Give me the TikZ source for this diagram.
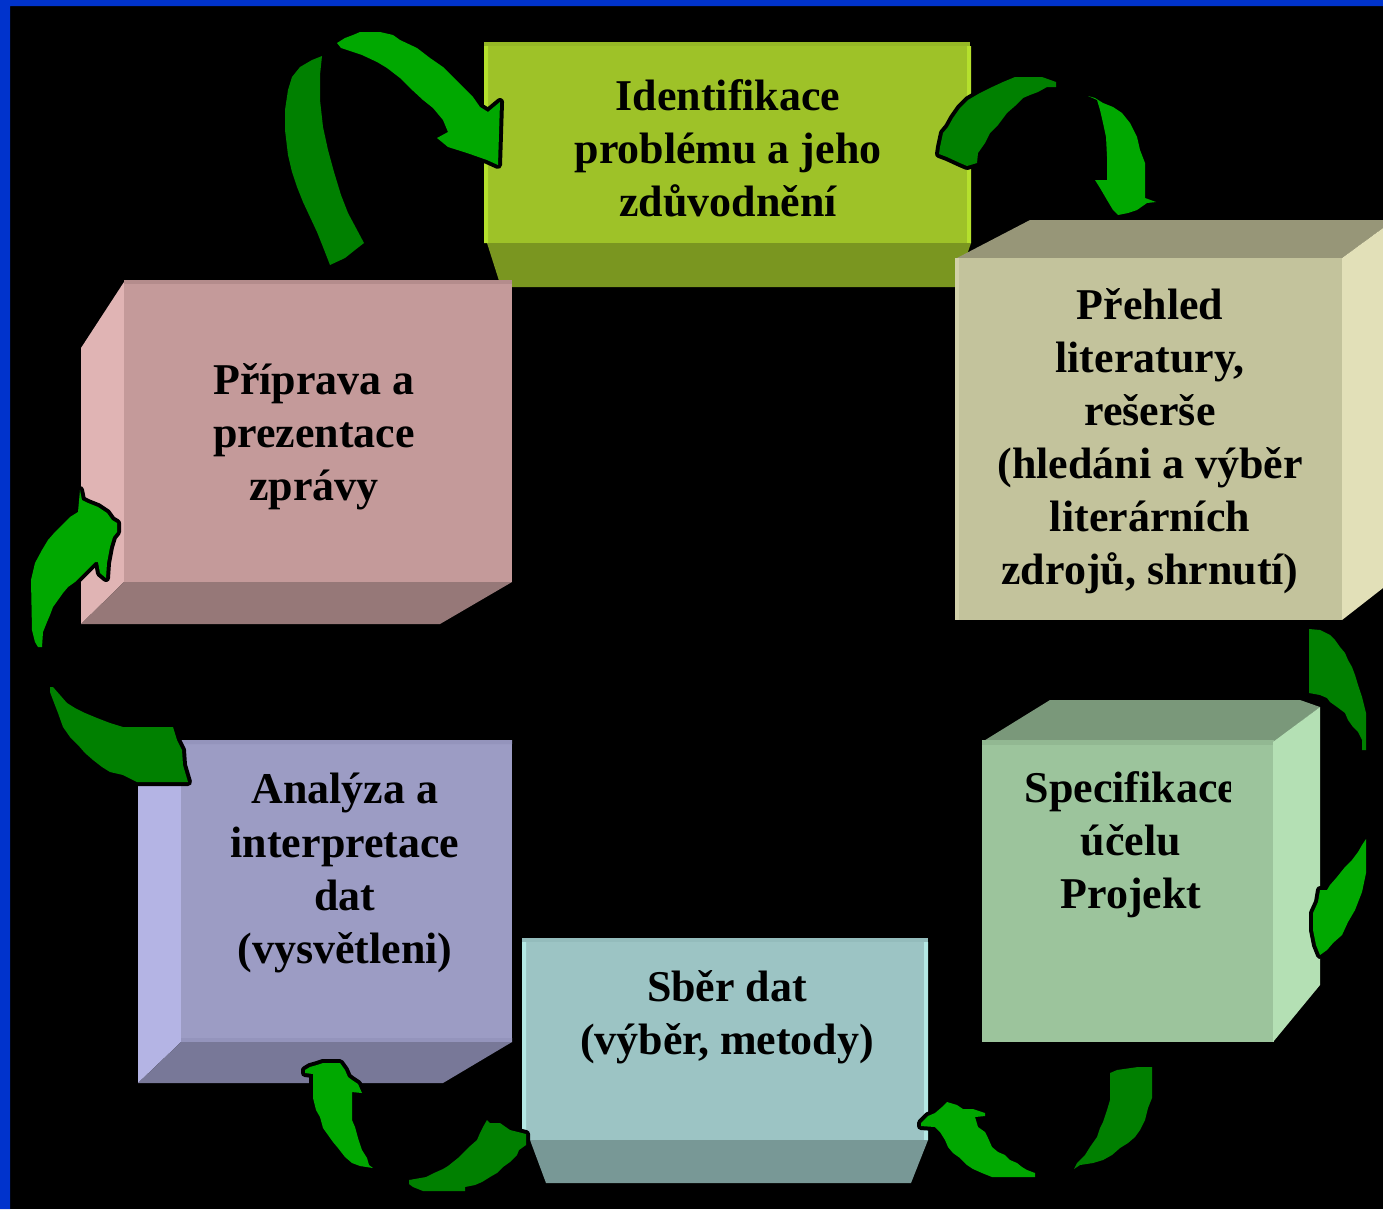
\documentclass[tikz,border=0pt]{standalone}
\usepackage{fontspec}
\setmainfont{Liberation Serif}

\definecolor{frameblue}{HTML}{0033CC}
\definecolor{arrowdark}{HTML}{008000}
\definecolor{arrowlight}{HTML}{00A800}
% faces of the six boxes
\definecolor{identfront}{HTML}{9EC228}
\definecolor{identlight}{HTML}{B5E02D}
\definecolor{identedge}{HTML}{96B826}
\definecolor{identdark}{HTML}{7A9620}
\definecolor{prehledfront}{HTML}{C3C39C}
\definecolor{prehledlight}{HTML}{D2D1AA}
\definecolor{prehledside}{HTML}{E2E0B8}
\definecolor{prehledtop}{HTML}{979678}
\definecolor{specfront}{HTML}{9CC49C}
\definecolor{specedge}{HTML}{92B892}
\definecolor{specside}{HTML}{B4E0B4}
\definecolor{spectop}{HTML}{7A987A}
\definecolor{sberfront}{HTML}{9CC4C4}
\definecolor{sberedge}{HTML}{94BCBC}
\definecolor{sberlight}{HTML}{B4E8E4}
\definecolor{sberdark}{HTML}{789896}
\definecolor{analfront}{HTML}{9C9CC4}
\definecolor{analedge}{HTML}{9494BC}
\definecolor{anallight}{HTML}{B4B4E4}
\definecolor{analdark}{HTML}{787898}
\definecolor{pripfront}{HTML}{C49A9A}
\definecolor{pripedge}{HTML}{B48C8C}
\definecolor{priplight}{HTML}{E0B4B4}
\definecolor{pripdark}{HTML}{967878}

\tikzset{
    boxtext/.style={font=\fontsize{12.5}{15.1}\selectfont\bfseries, align=center, inner sep=0pt},
    arrowback/.style={fill=arrowdark, preaction={draw=black, line width=0.08cm, line join=round}},
    arrowfront/.style={fill=arrowlight, preaction={draw=black, line width=0.08cm, line join=round}}
    % one unit = one pixel of the slide
}
\def\pix{0.01cm}

\begin{document}
\begin{tikzpicture}[x=\pix, y=-\pix]
    \useasboundingbox (0,0) rectangle (1383,1209);
    \fill[black] (0,0) rectangle (1383,1209);
    \fill[frameblue] (0,0) rectangle (10,1209) (0,0) rectangle (1383,6);

    % Identifikace
    \fill[identfront] (484,42) rectangle (970,243);
    \fill[identedge] (484,42) rectangle (970,46);
    \fill[identlight] (484,46) rectangle (488,243) (967,46) rectangle (971,243);
    \fill[identdark] (487,243) -- (971,243) -- (956,287) -- (501,287) -- cycle;

    % Prehled
    \fill[prehledtop] (957,258) -- (1030,220) -- (1383,220) -- (1383,228) -- (1342,258) -- cycle;
    \fill[prehledfront] (955,258) rectangle (1342,620);
    \fill[prehledlight] (955,258) rectangle (959,620);
    \fill[prehledside] (1342,258) -- (1383,228) -- (1383,588) -- (1342,620) -- cycle;

    % Specifikace
    \fill[spectop] (982,742) -- (1050,700) -- (1300,700) -- (1320,707) -- (1274,742) -- cycle;
    \fill[specfront] (982,742) rectangle (1274,1042);
    \fill[specedge] (982,740) rectangle (1274,745);
    \fill[specside] (1273,742) -- (1320,707) -- (1320,985) -- (1273,1042) -- cycle;

    % Sber dat
    \fill[sberfront] (522,938) rectangle (928,1140);
    \fill[sberedge] (522,938) rectangle (928,942);
    \fill[sberlight] (522,942) rectangle (526,1140) (924,942) rectangle (928,1140);
    \fill[sberdark] (530,1140) -- (928,1140) -- (911,1183) -- (546,1183) -- cycle;

    % Analyza
    \fill[anallight] (138,782) -- (181,740) -- (181,1042) -- (138,1083) -- cycle;
    \fill[analfront] (181,740) rectangle (512,1042);
    \fill[analedge] (181,740) rectangle (512,744) (181,1038) rectangle (512,1042);
    \fill[analdark] (181,1042) -- (512,1042) -- (443,1083) -- (138,1083) -- cycle;

    % Priprava
    \fill[priplight] (81,348) -- (124,282) -- (124,582) -- (81,624) -- cycle;
    \fill[pripfront] (124,280) rectangle (512,582);
    \fill[pripedge] (124,280) rectangle (512,284);
    \fill[pripdark] (124,582) -- (512,582) -- (440,624) -- (81,624) -- cycle;

    % texts
    \draw
        node [boxtext] (ident) at (728,148) {Identifikace\\problému a jeho\\zdůvodnění}
        node [boxtext] (prehled) at (1150,441) {Přehled\\literatury,\\rešerše\\(hledáni a výběr\\literárních\\zdrojů, shrnutí)}
        node [boxtext] (sber) at (727,1017) {Sběr dat\\(výběr, metody)}
        node [boxtext] (analyza) at (345,873) {Analýza a\\interpretace\\dat\\(vysvětleni)}
        node [boxtext] (priprava) at (314,437) {Příprava a\\prezentace\\zprávy}
    ;
    \begin{scope}
        \clip (982,742) rectangle (1230,1042);
        \node [boxtext] (spec) at (1131,845) {Specifikace\\účelu\\Projekt};
    \end{scope}

    % arrows, back part dark and front part light
    \path
        [arrowback]
        (322,56) -- (312,60) -- (300,67) -- (292,77) -- (288,90) -- (285,110) -- (285,130)
        -- (288,155) -- (292,172) -- (297,187) -- (303,202) -- (310,217) -- (317,232)
        -- (323,247) -- (330,265) -- (345,258) -- (355,250) -- (364,243) -- (356,228)
        -- (348,213) -- (341,195) -- (334,172) -- (328,150) -- (323,127) -- (320,100)
        -- (320,75) -- cycle
    ;
    \path
        [arrowfront]
        (337,43) -- (345,38) -- (353,35) -- (360,32) -- (380,32) -- (393,35) -- (400,40)
        -- (417,48) -- (430,58) -- (443,67) -- (453,77) -- (463,87) -- (473,97)
        -- (480,107) -- (488,112) -- (500,102) -- (498,165) -- (487,160) -- (467,153)
        -- (448,147) -- (437,138) -- (448,132) -- (443,120) -- (433,108) -- (423,100)
        -- (410,88) -- (400,78) -- (387,68) -- (377,62) -- (362,55) -- (341,48) -- cycle
    ;

    \path
        [arrowback]
        (940,147) -- (943,133) -- (948,127) -- (953,118) -- (960,108) -- (968,100)
        -- (980,93) -- (990,88) -- (1003,82) -- (1015,77) -- (1042,77) -- (1056,82)
        -- (1056,87) -- (1047,87) -- (1038,92) -- (1030,95) -- (1023,98) -- (1015,106)
        -- (1007,113) -- (998,125) -- (990,133) -- (985,143) -- (978,153) -- (977,163)
        -- (967,166) -- (960,163) -- (947,157) -- (939,154) -- cycle
    ;
    \path
        [arrowfront]
        (1088,96) -- (1097,100) -- (1100,110) -- (1103,123) -- (1106,137) -- (1107,157)
        -- (1107,180) -- (1095,180) -- (1100,188) -- (1107,200) -- (1113,210) -- (1118,215)
        -- (1128,213) -- (1137,210) -- (1147,203) -- (1156,202) -- (1145,198) -- (1145,163)
        -- (1140,150) -- (1137,137) -- (1130,123) -- (1122,113) -- (1113,107) -- (1103,103)
        -- (1095,98) -- cycle
    ;

    \path
        [arrowback]
        (1309,629) -- (1309,693) -- (1320,695) -- (1327,698) -- (1330,702) -- (1337,707)
        -- (1345,713) -- (1348,720) -- (1353,727) -- (1358,732) -- (1362,740) -- (1362,750)
        -- (1366,750) -- (1366,713) -- (1362,697) -- (1358,685) -- (1355,675) -- (1352,667)
        -- (1348,660) -- (1345,653) -- (1340,647) -- (1335,640) -- (1330,635) -- (1320,630)
        -- cycle
    ;
    \path
        [arrowfront]
        (1366,839) -- (1366,873) -- (1362,892) -- (1355,910) -- (1348,922) -- (1342,935)
        -- (1333,943) -- (1327,950) -- (1320,955) -- (1316,945) -- (1313,930) -- (1313,913)
        -- (1318,902) -- (1320,890) -- (1327,890) -- (1330,885) -- (1337,877) -- (1345,867)
        -- (1352,860) -- (1358,852) -- (1362,845) -- cycle
    ;

    \path
        [arrowback]
        (1138,1067) -- (1152,1067) -- (1152,1098) -- (1148,1108) -- (1145,1120) -- (1140,1130)
        -- (1135,1137) -- (1128,1143) -- (1120,1148) -- (1112,1155) -- (1103,1160)
        -- (1093,1163) -- (1080,1165) -- (1074,1169) -- (1077,1163) -- (1085,1155)
        -- (1090,1147) -- (1097,1137) -- (1100,1128) -- (1103,1122) -- (1107,1110)
        -- (1110,1100) -- (1110,1073) -- (1117,1070) -- cycle
    ;
    \path
        [arrowfront]
        (947,1102) -- (957,1105) -- (963,1109) -- (973,1109) -- (985,1113) -- (985,1116)
        -- (975,1117) -- (978,1127) -- (985,1132) -- (988,1138) -- (992,1147) -- (998,1152)
        -- (1005,1155) -- (1010,1160) -- (1017,1163) -- (1022,1167) -- (1027,1170)
        -- (1035,1173) -- (1035,1177) -- (992,1177) -- (982,1173) -- (973,1169) -- (967,1165)
        -- (960,1158) -- (953,1153) -- (948,1147) -- (945,1140) -- (940,1132) -- (935,1127)
        -- (921,1126) -- (921,1123) -- (928,1116) -- (935,1113) -- (942,1107) -- cycle
    ;

    \path
        [arrowback]
        (409,1180) -- (426,1177) -- (434,1173) -- (443,1169) -- (448,1166) -- (453,1162)
        -- (458,1158) -- (463,1153) -- (469,1147) -- (477,1140) -- (480,1133) -- (483,1127)
        -- (487,1120) -- (490,1123) -- (500,1123) -- (510,1130) -- (526,1134) -- (526,1145)
        -- (519,1150) -- (517,1155) -- (510,1162) -- (503,1167) -- (497,1173) -- (490,1177)
        -- (482,1182) -- (475,1185) -- (465,1187) -- (465,1191) -- (423,1191) -- (413,1187)
        -- (409,1184) -- cycle
    ;
    \path
        [arrowfront]
        (323,1063) -- (340,1063) -- (345,1070) -- (348,1077) -- (352,1080) -- (358,1084)
        -- (362,1093) -- (352,1092) -- (352,1120) -- (355,1127) -- (358,1138) -- (362,1150)
        -- (367,1158) -- (369,1165) -- (373,1168) -- (360,1166) -- (352,1163) -- (345,1157)
        -- (338,1148) -- (333,1142) -- (328,1135) -- (323,1128) -- (320,1117) -- (316,1110)
        -- (313,1098) -- (313,1074) -- (305,1073) -- (305,1070) -- (310,1067) -- (317,1065)
        -- cycle
    ;

    \path
        [arrowback]
        (50,687) -- (53,687) -- (60,695) -- (67,703) -- (75,708) -- (85,713) -- (97,718)
        -- (110,723) -- (123,727) -- (173,727) -- (177,740) -- (182,750) -- (183,765)
        -- (188,782) -- (137,782) -- (123,775) -- (110,772) -- (102,767) -- (93,760)
        -- (85,753) -- (78,745) -- (70,737) -- (63,727) -- (58,713) -- (53,700) -- (50,692)
        -- cycle
    ;
    \path
        [arrowfront]
        (80,490) -- (82,500) -- (88,503) -- (98,507) -- (107,513) -- (112,520) -- (117,523)
        -- (117,532) -- (113,537) -- (110,547) -- (107,563) -- (106,578) -- (100,573)
        -- (98,562) -- (95,562) -- (90,567) -- (85,572) -- (80,577) -- (75,582) -- (68,587)
        -- (63,593) -- (58,600) -- (53,607) -- (50,615) -- (47,622) -- (43,632) -- (42,647)
        -- (38,647) -- (35,642) -- (32,630) -- (31,580) -- (35,563) -- (42,550) -- (48,540)
        -- (55,532) -- (62,525) -- (70,517) -- (78,512) -- cycle
    ;
\end{tikzpicture}
\end{document}
